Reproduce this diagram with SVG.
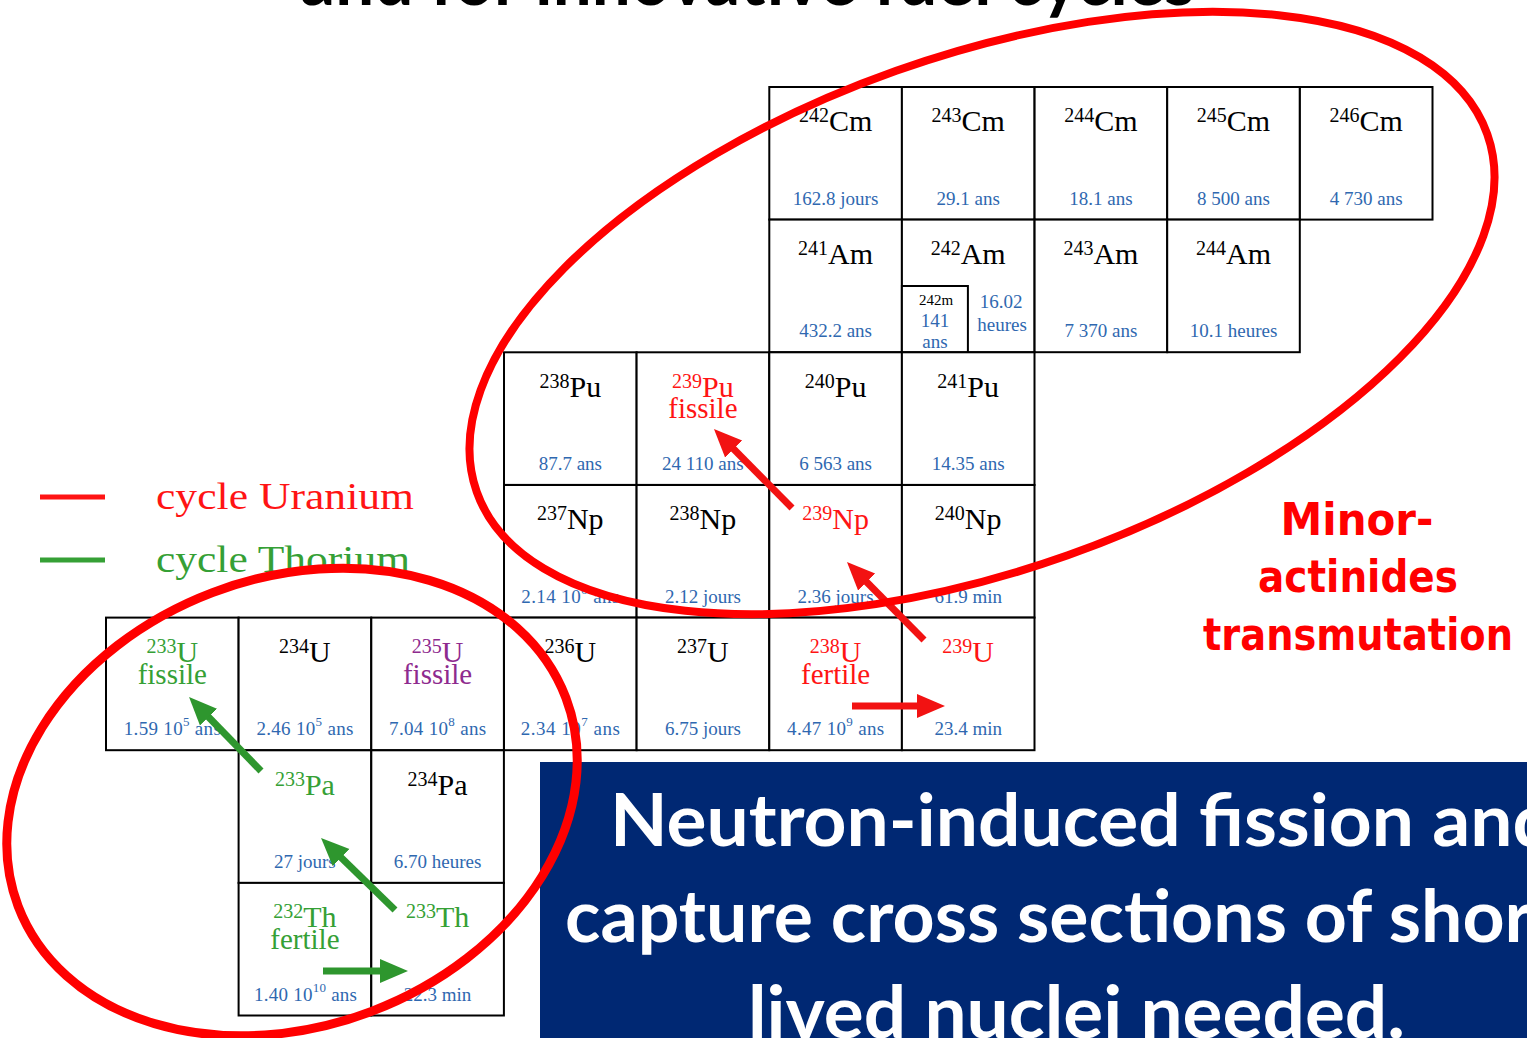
<svg xmlns="http://www.w3.org/2000/svg" width="1527" height="1038" viewBox="0 0 1527 1038">
  <style>
    .cell rect{fill:#fff;stroke:#000;stroke-width:2}
    .sub{fill:none;stroke:#000;stroke-width:2}
    .sym{font-family:"Liberation Serif","Times New Roman",serif;font-size:30px;text-anchor:middle;fill:#000}
    .sup{font-size:20px}
    .tag{font-family:"Liberation Serif","Times New Roman",serif;font-size:29px;text-anchor:middle}
    .hl{font-family:"Liberation Serif","Times New Roman",serif;font-size:19px;text-anchor:middle;fill:#2f68b0}
    .small{font-family:"Liberation Serif","Times New Roman",serif;font-size:15px;text-anchor:middle;fill:#000}
    .exp{font-size:13px}
    .red{fill:#ff1414}
    .green{fill:#35a035}
    .purple{fill:#8e2a8e}
    .ring{fill:none;stroke:#ff0000}
    .arr-r{stroke:#f21212;stroke-width:7}
    .arr-g{stroke:#2e962e;stroke-width:7}
    .legend-text{font-family:"Liberation Serif","Times New Roman",serif;font-size:37px}
    .note{font-family:"DejaVu Sans",sans-serif;font-weight:700;font-size:45px;fill:#ff0000;text-anchor:middle}
    .banner{font-family:Lato,"Open Sans",sans-serif;font-weight:700;font-size:72px;fill:#fff}
  </style>
  <defs>
    <marker id="headR" markerUnits="userSpaceOnUse" markerWidth="28" markerHeight="26" refX="13" refY="13" orient="auto">
      <path d="M0,1 L28,13 L0,25 z" fill="#f21212"/>
    </marker>
    <marker id="headG" markerUnits="userSpaceOnUse" markerWidth="28" markerHeight="26" refX="13" refY="13" orient="auto">
      <path d="M0,1 L28,13 L0,25 z" fill="#2e962e"/>
    </marker>
  </defs>

  <rect width="1527" height="1038" fill="#fff"/>

  <!-- slide title, only its lower edge falls inside the frame -->
  <text id="title" x="300" y="5" font-family="Lato, 'Open Sans', sans-serif" font-weight="700" font-size="72" fill="#000" textLength="895" lengthAdjust="spacingAndGlyphs">and for innovative fuel cycles</text>

  <!-- curium row -->
  <g id="cm242" class="cell"><rect x="769.3" y="87" width="132.6" height="132.6"/>
    <text class="sym" x="835.6" y="131.3"><tspan class="sup" dy="-9">242</tspan><tspan dy="9">Cm</tspan></text>
    <text class="hl" x="835.6" y="204.8">162.8 jours</text></g>
  <g id="cm243" class="cell"><rect x="901.9" y="87" width="132.6" height="132.6"/>
    <text class="sym" x="968.2" y="131.3"><tspan class="sup" dy="-9">243</tspan><tspan dy="9">Cm</tspan></text>
    <text class="hl" x="968.2" y="204.8">29.1 ans</text></g>
  <g id="cm244" class="cell"><rect x="1034.6" y="87" width="132.6" height="132.6"/>
    <text class="sym" x="1100.9" y="131.3"><tspan class="sup" dy="-9">244</tspan><tspan dy="9">Cm</tspan></text>
    <text class="hl" x="1100.9" y="204.8">18.1 ans</text></g>
  <g id="cm245" class="cell"><rect x="1167.2" y="87" width="132.6" height="132.6"/>
    <text class="sym" x="1233.5" y="131.3"><tspan class="sup" dy="-9">245</tspan><tspan dy="9">Cm</tspan></text>
    <text class="hl" x="1233.5" y="204.8">8 500 ans</text></g>
  <g id="cm246" class="cell"><rect x="1299.9" y="87" width="132.6" height="132.6"/>
    <text class="sym" x="1366.2" y="131.3"><tspan class="sup" dy="-9">246</tspan><tspan dy="9">Cm</tspan></text>
    <text class="hl" x="1366.2" y="204.8">4 730 ans</text></g>

  <!-- americium row -->
  <g id="am241" class="cell"><rect x="769.3" y="219.6" width="132.6" height="132.6"/>
    <text class="sym" x="835.6" y="263.9"><tspan class="sup" dy="-9">241</tspan><tspan dy="9">Am</tspan></text>
    <text class="hl" x="835.6" y="337.4">432.2 ans</text></g>
  <g id="am242" class="cell"><rect x="901.9" y="219.6" width="132.6" height="132.6"/>
    <text class="sym" x="968.2" y="263.9"><tspan class="sup" dy="-9">242</tspan><tspan dy="9">Am</tspan></text>
    <rect class="sub" x="901.9" y="286" width="66" height="66.2"/>
    <text class="small" x="936" y="305">242m</text>
    <text class="hl" x="935" y="327">141</text>
    <text class="hl" x="935" y="347.5">ans</text>
    <text class="hl" x="1001" y="308">16.02</text>
    <text class="hl" x="1002" y="331">heures</text></g>
  <g id="am243" class="cell"><rect x="1034.6" y="219.6" width="132.6" height="132.6"/>
    <text class="sym" x="1100.9" y="263.9"><tspan class="sup" dy="-9">243</tspan><tspan dy="9">Am</tspan></text>
    <text class="hl" x="1100.9" y="337.4">7 370 ans</text></g>
  <g id="am244" class="cell"><rect x="1167.2" y="219.6" width="132.6" height="132.6"/>
    <text class="sym" x="1233.5" y="263.9"><tspan class="sup" dy="-9">244</tspan><tspan dy="9">Am</tspan></text>
    <text class="hl" x="1233.5" y="337.4">10.1 heures</text></g>

  <!-- plutonium row -->
  <g id="pu238" class="cell"><rect x="504" y="352.3" width="132.6" height="132.6"/>
    <text class="sym" x="570.3" y="396.6"><tspan class="sup" dy="-9">238</tspan><tspan dy="9">Pu</tspan></text>
    <text class="hl" x="570.3" y="470.1">87.7 ans</text></g>
  <g id="pu239" class="cell"><rect x="636.6" y="352.3" width="132.6" height="132.6"/>
    <text class="sym red" x="702.9" y="396.6"><tspan class="sup" dy="-9">239</tspan><tspan dy="9">Pu</tspan></text>
    <text class="tag red" x="702.9" y="418.3">fissile</text>
    <text class="hl" x="702.9" y="470.1">24 110 ans</text></g>
  <g id="pu240" class="cell"><rect x="769.3" y="352.3" width="132.6" height="132.6"/>
    <text class="sym" x="835.6" y="396.6"><tspan class="sup" dy="-9">240</tspan><tspan dy="9">Pu</tspan></text>
    <text class="hl" x="835.6" y="470.1">6 563 ans</text></g>
  <g id="pu241" class="cell"><rect x="901.9" y="352.3" width="132.6" height="132.6"/>
    <text class="sym" x="968.2" y="396.6"><tspan class="sup" dy="-9">241</tspan><tspan dy="9">Pu</tspan></text>
    <text class="hl" x="968.2" y="470.1">14.35 ans</text></g>

  <!-- neptunium row -->
  <g id="np237" class="cell"><rect x="504" y="485" width="132.6" height="132.6"/>
    <text class="sym" x="570.3" y="529.3"><tspan class="sup" dy="-9">237</tspan><tspan dy="9">Np</tspan></text>
    <text class="hl" x="570.3" y="602.8" textLength="98">2.14 10<tspan class="exp" dy="-9">6</tspan><tspan dy="9"> ans</tspan></text></g>
  <g id="np238" class="cell"><rect x="636.6" y="485" width="132.6" height="132.6"/>
    <text class="sym" x="702.9" y="529.3"><tspan class="sup" dy="-9">238</tspan><tspan dy="9">Np</tspan></text>
    <text class="hl" x="702.9" y="602.8">2.12 jours</text></g>
  <g id="np239" class="cell"><rect x="769.3" y="485" width="132.6" height="132.6"/>
    <text class="sym red" x="835.6" y="529.3"><tspan class="sup" dy="-9">239</tspan><tspan dy="9">Np</tspan></text>
    <text class="hl" x="835.6" y="602.8">2.36 jours</text></g>
  <g id="np240" class="cell"><rect x="901.9" y="485" width="132.6" height="132.6"/>
    <text class="sym" x="968.2" y="529.3"><tspan class="sup" dy="-9">240</tspan><tspan dy="9">Np</tspan></text>
    <text class="hl" x="968.2" y="602.8">61.9 min</text></g>

  <!-- uranium row -->
  <g id="u233" class="cell"><rect x="106" y="617.6" width="132.6" height="132.6"/>
    <text class="sym green" x="172.3" y="661.9"><tspan class="sup" dy="-9">233</tspan><tspan dy="9">U</tspan></text>
    <text class="tag green" x="172.3" y="683.6">fissile</text>
    <text class="hl" x="172.3" y="735.4" textLength="97">1.59 10<tspan class="exp" dy="-9">5</tspan><tspan dy="9"> ans</tspan></text></g>
  <g id="u234" class="cell"><rect x="238.6" y="617.6" width="132.6" height="132.6"/>
    <text class="sym" x="304.9" y="661.9"><tspan class="sup" dy="-9">234</tspan><tspan dy="9">U</tspan></text>
    <text class="hl" x="304.9" y="735.4" textLength="97">2.46 10<tspan class="exp" dy="-9">5</tspan><tspan dy="9"> ans</tspan></text></g>
  <g id="u235" class="cell"><rect x="371.3" y="617.6" width="132.6" height="132.6"/>
    <text class="sym purple" x="437.6" y="661.9"><tspan class="sup" dy="-9">235</tspan><tspan dy="9">U</tspan></text>
    <text class="tag purple" x="437.6" y="683.6">fissile</text>
    <text class="hl" x="437.6" y="735.4" textLength="97">7.04 10<tspan class="exp" dy="-9">8</tspan><tspan dy="9"> ans</tspan></text></g>
  <g id="u236" class="cell"><rect x="504" y="617.6" width="132.6" height="132.6"/>
    <text class="sym" x="570.3" y="661.9"><tspan class="sup" dy="-9">236</tspan><tspan dy="9">U</tspan></text>
    <text class="hl" x="570.3" y="735.4" textLength="99">2.34 10<tspan class="exp" dy="-9">7</tspan><tspan dy="9"> ans</tspan></text></g>
  <g id="u237" class="cell"><rect x="636.6" y="617.6" width="132.6" height="132.6"/>
    <text class="sym" x="702.9" y="661.9"><tspan class="sup" dy="-9">237</tspan><tspan dy="9">U</tspan></text>
    <text class="hl" x="702.9" y="735.4">6.75 jours</text></g>
  <g id="u238" class="cell"><rect x="769.3" y="617.6" width="132.6" height="132.6"/>
    <text class="sym red" x="835.6" y="661.9"><tspan class="sup" dy="-9">238</tspan><tspan dy="9">U</tspan></text>
    <text class="tag red" x="835.6" y="683.6">fertile</text>
    <text class="hl" x="835.6" y="735.4" textLength="97">4.47 10<tspan class="exp" dy="-9">9</tspan><tspan dy="9"> ans</tspan></text></g>
  <g id="u239" class="cell"><rect x="901.9" y="617.6" width="132.6" height="132.6"/>
    <text class="sym red" x="968.2" y="661.9"><tspan class="sup" dy="-9">239</tspan><tspan dy="9">U</tspan></text>
    <text class="hl" x="968.2" y="735.4">23.4 min</text></g>

  <!-- protactinium row -->
  <g id="pa233" class="cell"><rect x="238.6" y="750.3" width="132.6" height="132.6"/>
    <text class="sym green" x="304.9" y="794.6"><tspan class="sup" dy="-9">233</tspan><tspan dy="9">Pa</tspan></text>
    <text class="hl" x="304.9" y="868.1">27 jours</text></g>
  <g id="pa234" class="cell"><rect x="371.3" y="750.3" width="132.6" height="132.6"/>
    <text class="sym" x="437.6" y="794.6"><tspan class="sup" dy="-9">234</tspan><tspan dy="9">Pa</tspan></text>
    <text class="hl" x="437.6" y="868.1">6.70 heures</text></g>

  <!-- thorium row -->
  <g id="th232" class="cell"><rect x="238.6" y="882.9" width="132.6" height="132.6"/>
    <text class="sym green" x="304.9" y="927.2"><tspan class="sup" dy="-9">232</tspan><tspan dy="9">Th</tspan></text>
    <text class="tag green" x="304.9" y="948.9">fertile</text>
    <text class="hl" x="305.5" y="1000.7" textLength="103">1.40 10<tspan class="exp" dy="-9">10</tspan><tspan dy="9"> ans</tspan></text></g>
  <g id="th233" class="cell"><rect x="371.3" y="882.9" width="132.6" height="132.6"/>
    <text class="sym green" x="437.6" y="927.2"><tspan class="sup" dy="-9">233</tspan><tspan dy="9">Th</tspan></text>
    <text class="hl" x="437.6" y="1000.7">22.3 min</text></g>

  <!-- capture and decay arrows -->
  <g id="connectors" fill="none">
    <line class="arr-r" x1="792" y1="508" x2="724.5" y2="439.7" marker-end="url(#headR)"/>
    <line class="arr-r" x1="924" y1="640" x2="857.5" y2="572.7" marker-end="url(#headR)"/>
    <line class="arr-r" x1="852" y1="706" x2="930" y2="706" marker-end="url(#headR)"/>
    <line class="arr-g" x1="261" y1="771" x2="199.5" y2="707.8" marker-end="url(#headG)"/>
    <line class="arr-g" x1="395" y1="910" x2="331.8" y2="848.5" marker-end="url(#headG)"/>
    <line class="arr-g" x1="323" y1="971" x2="393" y2="971" marker-end="url(#headG)"/>
  </g>

  <!-- legend -->
  <g id="legend">
    <line x1="40" y1="497" x2="105" y2="497" stroke="#ff1414" stroke-width="5"/>
    <text class="legend-text red" x="156" y="509" textLength="258" lengthAdjust="spacingAndGlyphs">cycle Uranium</text>
    <line x1="40" y1="560" x2="105" y2="560" stroke="#35a035" stroke-width="5"/>
    <text class="legend-text green" x="156" y="572" textLength="254" lengthAdjust="spacingAndGlyphs">cycle Thorium</text>
  </g>

  <!-- side note -->
  <g id="note">
    <text class="note" x="1357" y="535" textLength="153" lengthAdjust="spacingAndGlyphs">Minor-</text>
    <text class="note" x="1358" y="592" textLength="200" lengthAdjust="spacingAndGlyphs">actinides</text>
    <text class="note" x="1358" y="650" textLength="310" lengthAdjust="spacingAndGlyphs">transmutation</text>
  </g>

  <!-- banner -->
  <g id="banner">
    <rect x="540" y="762" width="987" height="276" fill="#002873"/>
    <text class="banner" x="610" y="846" textLength="945" lengthAdjust="spacingAndGlyphs">Neutron-induced fission and</text>
    <text class="banner" x="565" y="942" textLength="967" lengthAdjust="spacingAndGlyphs">capture cross sections of shor</text>
    <text class="banner" x="748" y="1038" textLength="657" lengthAdjust="spacingAndGlyphs">lived nuclei needed.</text>
  </g>

  <!-- hand-drawn highlight rings -->
  <g id="rings">
    <ellipse class="ring" cx="982" cy="313" rx="536" ry="257" stroke-width="8" transform="rotate(-19.5 982 313)"/>
    <ellipse class="ring" cx="292" cy="802" rx="293" ry="224" stroke-width="9" transform="rotate(-20.8 292 802)"/>
  </g>
</svg>
